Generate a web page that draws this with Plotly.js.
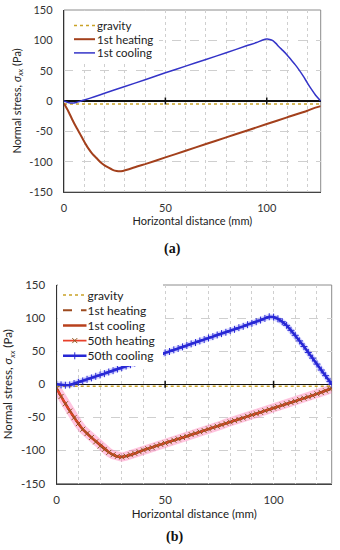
<!DOCTYPE html>
<html><head><meta charset="utf-8">
<script src="https://cdn.plot.ly/plotly-3.0.1.min.js"></script>
<style>html,body{margin:0;padding:0;background:#fff}#chart{width:340px;height:550px}</style>
</head><body><div id="chart"></div>
<script>
// ---------- shared ticks ----------
const xTicks = [0, 50, 100];
const yTicks = [-150, -100, -50, 0, 50, 100, 150];

// ---------- panel (a) ----------
const namesA = ['gravity', '1st heating', '1st cooling'];
const gravA_x = [0, 126.6];
const gravA_y = [-5, -5];
const heat1A_x = [0,2,4,6,8,10,12,14,16,18,20,22,24,26,27.5,29,32,36,40,50,60,70,80,90,100,110,120,124,126.6];
const heat1A_y = [-4,-16,-30,-43,-55,-67,-78,-87,-94,-101,-106,-110,-113.5,-115.5,-116,-115.3,-112.5,-108,-104,-93,-82,-71,-60,-49,-38,-27,-16,-11,-8.5];
const cool1A_x = [0,2,4,6,8,10,15,20,30,40,50,60,70,80,90,95,98,100,101.5,103,104.5,106,108,110,112,114,116,118,120,122,124,125.5,126.6];
const cool1A_y = [0,-2.5,-3.5,-2.5,-0.5,1.5,7,12.8,24,35,46.5,57.5,68.5,79.5,91,96.5,100.5,102,101.5,99.5,95,89.5,83,76,68,60,51,41,30,19.5,10,4,0];

// ---------- panel (b) ----------
const namesB = ['gravity', '1st heating', '1st cooling', '50th heating', '50th cooling'];
const gravB_x = [0, 126.8];
const gravB_y = [-3, -3];
const heat1B_x = [0,3,7,11.5,16,21,25.5,29,34.5,40,60,80,100,110,120,126.8];
const heat1B_y = [-6.5,-24,-45,-66,-80.5,-94,-106,-110,-106.5,-99.5,-78.5,-57,-36,-25.5,-14.5,-6];
const cool1B_x = [0,3,7,11.5,16,21,25.5,29,34.5,40,60,80,100,110,120,126.8];
const cool1B_y = [-6.5,-24,-45,-66,-80.5,-94,-106,-110,-106.5,-99.5,-78.5,-57,-36,-25.5,-14.5,-6];
const x50B = [0,2,4,6,8,10,12,14,16,18,20,22,24,26,28,30,32,34,36,38,40,42,44,46,48,50,52,54,56,58,60,62,64,66,68,70,72,74,76,78,80,82,84,86,88,90,92,94,96,98,100,102,104,106,108,110,112,114,116,118,120,122,124,126,126.8];
const heat50B_y = [-6.5,-18.5,-29.5,-40.5,-50.5,-59.5,-68,-74.5,-80.5,-87,-93.5,-98.5,-103,-106.5,-109,-110,-108.5,-106.5,-104.5,-102,-99.5,-97.5,-95.5,-93,-91,-89,-87,-84.5,-82.5,-80.5,-78.5,-76,-74,-72,-70,-67.5,-65.5,-63.5,-61.5,-59,-57,-55,-53,-51,-48.5,-46.5,-44.5,-42.5,-40,-38,-36,-34,-31.5,-29.5,-27.5,-25.5,-23,-21,-19,-17,-14.5,-12.5,-10,-7.5,-6];
const cool50B_y = [0,-1,-1.5,-1,1,3,5,7.5,9.5,12,14,16,18.5,20.5,23,25,27.5,29.5,32,34,36.5,38.5,41,43,45,47.5,49.5,52,54,56.5,58.5,61,63,65.5,67.5,70,72,74.5,76.5,78.5,81,83,85.5,87.5,90,92,94.5,97,99.5,102,101.5,99,94.5,89,81.5,74,65.5,57,48,39.5,30.5,21.5,13,4,0];

// ---------- styling ----------
const FONT = 'Lato, "Open Sans", sans-serif';
const W = 340, H = 550;
const boxA = {l: 64, r: 320.7, t: 10, b: 192};
const boxB = {l: 56.7, r: 331.7, t: 285, b: 483.5};
const dom = b => ({x: [b.l / W, b.r / W], y: [1 - b.b / H, 1 - b.t / H]});
const dA = dom(boxA), dB = dom(boxB);
const GRID = '#cfcfcf';
const yTitle = 'Normal stress, <i>σ<sub>xx</sub></i> (Pa)';

const data = [
  {x: gravA_x, y: gravA_y, name: namesA[0], mode: 'lines', line: {color: '#c9a227', width: 1.5, dash: 'dot'}, xaxis: 'x', yaxis: 'y', legend: 'legend'},
  {x: heat1A_x, y: heat1A_y, name: namesA[1], mode: 'lines', line: {color: '#a3401c', width: 2, shape: 'spline', smoothing: 0.6}, xaxis: 'x', yaxis: 'y', legend: 'legend'},
  {x: cool1A_x, y: cool1A_y, name: namesA[2], mode: 'lines', line: {color: '#3434c8', width: 1.5, shape: 'spline', smoothing: 0.6}, xaxis: 'x', yaxis: 'y', legend: 'legend'},

  // soft halo seen around the 50th-cycle curves in panel (b)
  {x: x50B, y: heat50B_y, mode: 'lines', line: {color: 'rgba(255,100,170,0.38)', width: 9}, hoverinfo: 'skip', showlegend: false, xaxis: 'x2', yaxis: 'y2'},
  {x: x50B, y: cool50B_y, mode: 'lines', line: {color: 'rgba(120,120,255,0.28)', width: 6}, hoverinfo: 'skip', showlegend: false, xaxis: 'x2', yaxis: 'y2'},

  {x: gravB_x, y: gravB_y, name: namesB[0], mode: 'lines', line: {color: '#c9a227', width: 1.5, dash: 'dot'}, xaxis: 'x2', yaxis: 'y2', legend: 'legend2'},
  {x: heat1B_x, y: heat1B_y, name: namesB[1], mode: 'lines', line: {color: '#9c4a1e', width: 2, dash: 'dash', shape: 'spline', smoothing: 0.6}, xaxis: 'x2', yaxis: 'y2', legend: 'legend2'},
  {x: cool1B_x, y: cool1B_y, name: namesB[2], mode: 'lines', line: {color: '#b8401c', width: 2.5, shape: 'spline', smoothing: 0.6}, xaxis: 'x2', yaxis: 'y2', legend: 'legend2'},
  {x: x50B, y: heat50B_y, name: namesB[3], mode: 'lines+markers', line: {color: '#e8402a', width: 1.8}, marker: {symbol: 'x-thin', size: 5, color: '#8a5a20', line: {color: '#8a5a20', width: 1}}, xaxis: 'x2', yaxis: 'y2', legend: 'legend2'},
  {x: x50B, y: cool50B_y, name: namesB[4], mode: 'lines+markers', line: {color: '#2626d4', width: 2.5}, marker: {symbol: 'cross-thin', size: 5, color: '#2626d4', line: {color: '#2a2ad6', width: 1}}, xaxis: 'x2', yaxis: 'y2', legend: 'legend2'}
];

function xax(domain, range, anchor, fs) {
  return {
    domain: domain, range: range, anchor: anchor,
    tickmode: 'array', tickvals: xTicks, ticktext: xTicks.map(String),
    ticks: '', ticklabelstandoff: 6, tickfont: {size: fs, color: '#333'},
    showgrid: true, gridcolor: GRID, griddash: 'dot', gridwidth: 1,
    minor: {tickmode: 'linear', tick0: 0, dtick: 10, showgrid: true, gridcolor: GRID, griddash: 'dot', gridwidth: 1, ticks: ''},
    showline: true, linecolor: '#444', linewidth: 1, zeroline: false,
    title: {text: 'Horizontal distance (mm)', font: {size: fs, color: '#222'}, standoff: 4}
  };
}
function yax(domain, anchor, fs) {
  return {
    domain: domain, range: [-150, 150], anchor: anchor,
    tickmode: 'array', tickvals: yTicks, ticktext: yTicks.map(String),
    ticks: '', ticklabelstandoff: 8, tickfont: {size: fs, color: '#333'},
    showgrid: true, gridcolor: GRID, griddash: 'dash', gridwidth: 1,
    zeroline: true, zerolinecolor: '#111', zerolinewidth: 1.5,
    showline: true, linecolor: '#333', linewidth: 1.2,
    title: {text: yTitle, font: {size: fs, color: '#222'}, standoff: 5}
  };
}

const tickShapes = (xr, yr) => xTicks.filter(v => v > 0).map(v => ({
  type: 'line', xref: xr, yref: yr, x0: v, x1: v, ysizemode: 'pixel', yanchor: 0, y0: -3.5, y1: 3.5,
  line: {color: '#111', width: 1.5}
}));
const frame = (xr, yr) => ({type: 'rect', xref: xr + ' domain', yref: yr + ' domain', x0: 0, x1: 1, y0: 0, y1: 1, line: {color: '#8c8c8c', width: 1}, layer: 'below'});

const layout = {
  width: W, height: H, margin: {l: 0, r: 0, t: 0, b: 0},
  paper_bgcolor: '#fff', plot_bgcolor: '#fff',
  font: {family: FONT, size: 11, color: '#222'},
  showlegend: true,
  xaxis: xax(dA.x, [0, 126.6], 'y', 11),
  yaxis: yax(dA.y, 'x', 11),
  xaxis2: xax(dB.x, [0, 126.8], 'y2', 11.5),
  yaxis2: yax(dB.y, 'x2', 11.5),
  legend: {x: 65 / W, y: 1 - 11 / H, xanchor: 'left', yanchor: 'top', bgcolor: '#fff', borderwidth: 0, font: {size: 11.5, color: '#222'}, tracegroupgap: 0},
  legend2: {x: 57.5 / W, y: 1 - 280.5 / H, xanchor: 'left', yanchor: 'top', bgcolor: '#fff', borderwidth: 0, font: {size: 12, color: '#222'}, tracegroupgap: 0},
  shapes: [frame('x', 'y'), frame('x2', 'y2')].concat(tickShapes('x', 'y'), tickShapes('x2', 'y2')),
  annotations: [
    {text: '<b>(a)</b>', xref: 'paper', yref: 'paper', x: 172 / W, y: 1 - 249 / H, showarrow: false, xanchor: 'center', yanchor: 'middle', font: {family: '"Liberation Serif", serif', size: 14, color: '#111'}},
    {text: '<b>(b)</b>', xref: 'paper', yref: 'paper', x: 174 / W, y: 1 - 537 / H, showarrow: false, xanchor: 'center', yanchor: 'middle', font: {family: '"Liberation Serif", serif', size: 14, color: '#111'}}
  ]
};

// tighten the legend rows and shorten the line samples (Plotly's minimum row is 19 px)
function squeeze(id, step, lineX0, lineLen, textX) {
  const g = gd.querySelector('g.infolayer > g.' + id);
  if (!g) return;
  const tr = Array.from(g.querySelectorAll('g.traces'));
  if (!tr.length) return;
  const parse = t => { const m = /translate\(\s*([-\d.e]+)[ ,]+([-\d.e]+)/.exec(t || ''); return m ? [+m[1], +m[2]] : [0, 0]; };
  const p0 = parse(tr[0].getAttribute('transform'));
  const old = tr.length > 1 ? parse(tr[1].getAttribute('transform'))[1] - p0[1] : 19;
  tr.forEach((t, i) => {
    const p = parse(t.getAttribute('transform'));
    t.setAttribute('transform', 'translate(' + p[0] + ',' + (p0[1] + i * step) + ')');
    t.querySelectorAll('g.legendlines path').forEach(pa => pa.setAttribute('d', 'M' + lineX0 + ',0h' + lineLen));
    t.querySelectorAll('g.legendpoints path').forEach(pa => pa.setAttribute('transform', 'translate(' + (lineX0 + lineLen / 2) + ',0)'));
    t.querySelectorAll('text').forEach(tx => {
      tx.setAttribute('x', textX);
      tx.querySelectorAll('tspan').forEach(s => { if (s.hasAttribute('x')) s.setAttribute('x', textX); });
    });
  });
  const bg = g.querySelector('rect.bg');
  if (bg) {
    const h = +bg.getAttribute('height');
    bg.setAttribute('height', h - (tr.length - 1) * (old - step) - 4);
    const w = +bg.getAttribute('width');
    bg.setAttribute('width', w - 8);
  }
}

const gd = document.getElementById('chart');
Plotly.newPlot(gd, data, layout, {staticPlot: true, displayModeBar: false}).then(() => {
  squeeze('legend', 13.7, 9, 21, 32);
  squeeze('legend2', 15.2, 5.5, 23.5, 30);
});
</script>
</body></html>
